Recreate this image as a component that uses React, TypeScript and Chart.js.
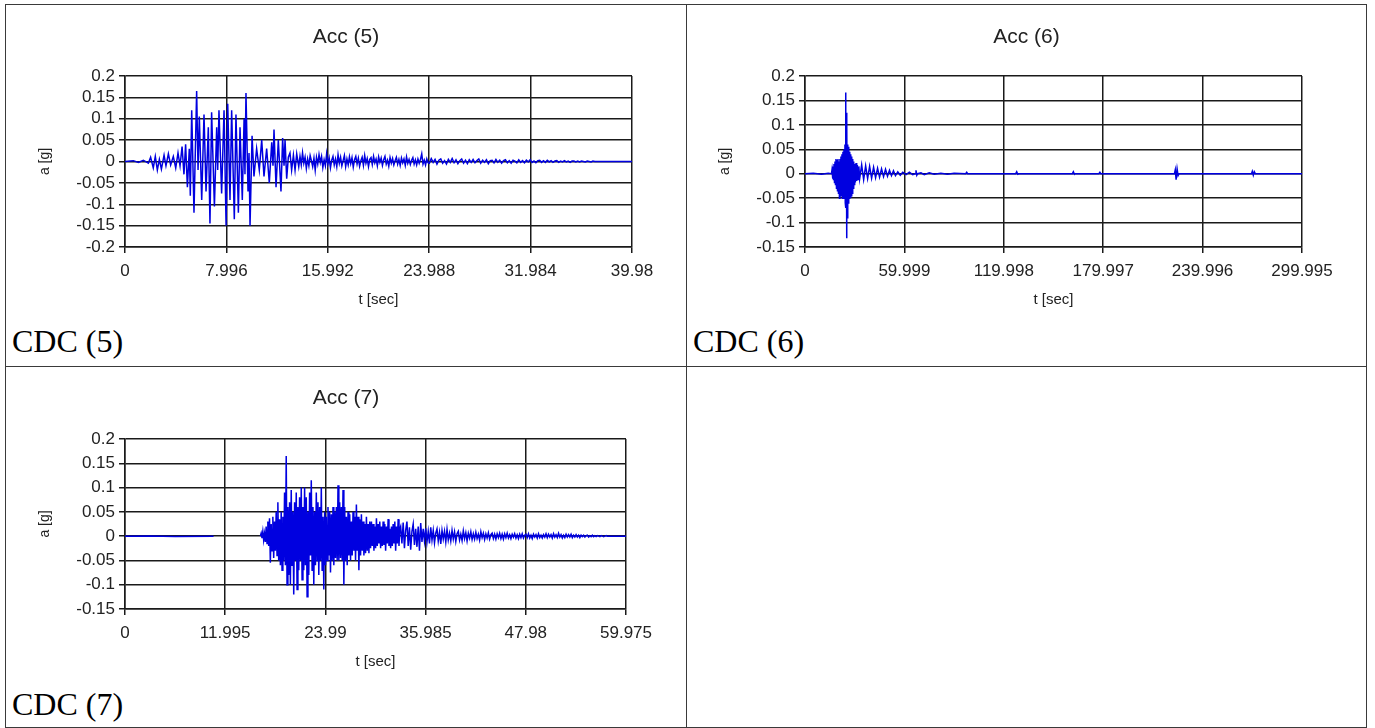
import React, { useEffect, useRef } from "react";
import { Chart, registerables } from "chart.js";

Chart.register(...registerables);

const SANS = "'Liberation Sans', Arial, sans-serif";
const SERIF = "'Liberation Serif', 'Times New Roman', serif";

// ---------- Acc (5) ----------
// strong-motion part: turning points (t [sec], a [g])
const t5 = [
  0, 0.66, 1.05, 1.45, 1.84, 2.02, 2.23, 2.39, 2.55, 2.71,
  2.87, 3.08, 3.23, 3.42, 3.6, 3.81, 4.0, 4.18, 4.34, 4.5,
  4.65, 4.78, 4.92, 5.07, 5.15, 5.26, 5.44, 5.65, 5.76, 5.86,
  6.05, 6.23, 6.39, 6.57, 6.7, 6.83, 7.05, 7.23, 7.31, 7.41,
  7.62, 7.81, 7.97, 8.1, 8.28, 8.41, 8.62, 8.75, 8.94, 9.07,
  9.25, 9.39, 9.46, 9.54, 9.7, 9.78, 9.86, 10.02, 10.17, 10.38,
  10.59, 10.78, 10.96, 11.17, 11.38, 11.57, 11.67, 11.75, 11.91, 12.09,
  12.3, 12.43, 12.54, 12.62, 12.75, 12.88, 13.01, 13.14, 13.28, 13.41,
  13.54, 13.7,
];
const a5 = [
  0, 0.002, -0.002, 0.003, -0.004, 0.01, -0.015, 0.012, -0.02, 0.005,
  -0.018, 0.015, -0.01, 0.018, -0.008, 0.012, -0.015, 0.02, -0.01, 0.035,
  -0.03, 0.04, -0.06, 0.03, -0.08, 0.12, -0.12, 0.165, -0.02, 0.105,
  -0.09, 0.11, -0.07, 0.08, -0.145, 0.115, -0.105, 0.08, -0.02, 0.12,
  -0.075, 0.12, -0.15, 0.135, -0.09, 0.12, -0.135, 0.11, -0.12, 0.08,
  -0.09, 0.1, -0.03, 0.16, -0.07, 0.02, -0.15, 0.06, -0.035, 0.03,
  -0.02, 0.05, -0.035, 0.03, -0.05, 0.045, -0.01, 0.075, -0.06, 0.05,
  -0.07, 0.055, -0.01, 0.05, -0.04, 0.01, 0.02, -0.02, 0.015, -0.02,
  0.018, -0.012,
];
// coda sampled every 0.1 s from 13.8 s
const coda5aStart = 13.8;
const coda5aStep = 0.1;
const coda5a = [
  0.012, -0.008, 0.02, -0.004, 0.01, -0.016, 0.006, -0.01, 0.014, 0.002,
  -0.012, 0.008, -0.02, 0.01, -0.006, 0.016, -0.002, 0.012, -0.014, 0.004,
  -0.01, 0.018, -0.006, 0.008, -0.015, 0.003, 0.012, -0.008, 0.006, -0.012,
  0.016, -0.004, 0.01, -0.01, 0.002, 0.014, -0.012, 0.006, -0.008, 0.011,
  -0.005, 0.009, -0.013, 0.004, 0.012, -0.006, 0.008, -0.011, 0.002, 0.01,
  -0.009, 0.014, -0.004, 0.007, -0.012, 0.005, 0.009, -0.007, 0.012, -0.003,
  0.006, -0.01, 0.011, -0.002, 0.008, -0.009, 0.004, 0.012, -0.006, 0.003,
  -0.011, 0.009, -0.004, 0.007, -0.008, 0.002, 0.01, -0.006, 0.005, -0.009,
  0.008, -0.003, 0.006, -0.009, 0.011, -0.004, 0.005, -0.007, 0.003, 0.009,
  -0.006, 0.004, -0.008, 0.006, -0.004, 0.005, 0.018, -0.006, 0.003, -0.008,
  0.006, -0.003,
];
// coda sampled every 0.15 s from 24.0 s
const coda5bStart = 24.0;
const coda5bStep = 0.15;
const coda5b = [
  -0.004, 0.007, -0.002, 0.005, -0.006, 0.003, 0.006, -0.004, 0.002, -0.006,
  0.005, -0.002, 0.007, -0.003, 0.004, -0.005, 0.002, 0.006, -0.004, 0.003,
  -0.005, 0.004, -0.002, 0.005, -0.003, 0.002, 0.006, -0.004, 0.003, -0.002,
  0.004, -0.005, 0.002, 0.003, -0.003, 0.005, -0.002, 0.003, -0.004, 0.002,
  0.004, -0.003, 0.002, -0.004, 0.003, 0.001, -0.003, 0.004, -0.002, 0.002,
  -0.003, 0.003, -0.001, 0.004, -0.002, 0.001, -0.003, 0.002, 0.003, -0.002,
  0.002, -0.002, 0.003, -0.001, 0.002, -0.002, 0.001, 0.002, -0.002, 0.001,
  -0.001, 0.002, -0.001, 0.001, -0.002, 0.001, 0.001, -0.001, 0.001, -0.001,
  0.001, 0, -0.001, 0.001, 0, -0.001, 0.001, 0, 0, 0,
];
const t5End = [38.5, 39.98];
const a5End = [0, 0];
const xTicks5 = [0, 7.996, 15.992, 23.988, 31.984, 39.98];
const xLabels5 = ["0", "7.996", "15.992", "23.988", "31.984", "39.98"];
const yTicks5 = [-0.2, -0.15, -0.1, -0.05, 0, 0.05, 0.1, 0.15, 0.2];
const yLabels5 = ["-0.2", "-0.15", "-0.1", "-0.05", "0", "0.05", "0.1", "0.15", "0.2"];

// ---------- Acc (6) ----------
const t6 = [
  0, 5, 10, 14, 16, 16.3, 16.6, 16.9, 17.2, 17.5,
  17.8, 18.1, 18.4, 18.7, 19.0, 19.3, 19.6, 19.9, 20.2, 20.5,
  20.8, 21.1, 21.4, 21.7, 22.0, 22.3, 22.6, 22.9, 23.2, 23.5,
  23.8, 24.1, 24.3, 24.5, 24.7, 24.9, 25.1, 25.3, 25.5, 25.8,
  26.1, 26.4, 26.7, 27.0, 27.3, 27.6, 27.9, 28.2, 28.5, 28.8,
  29.1, 29.4, 29.7, 30.0, 30.4, 30.8, 31.2, 31.6, 32.0, 32.5,
  33.0, 34.2, 35.4, 36.6, 37.8, 39.0, 40.2, 41.4, 42.6, 43.8,
  45.0, 46.2, 47.4, 48.6, 49.8, 51.0, 52.2, 53.4, 54.6,
  56, 57.5, 59, 61, 63, 65, 66.5, 67, 67.5, 68,
  70, 72, 75, 78, 82, 86, 90, 97, 97.6, 98.2,
  127.2, 127.8, 128.4, 129, 161.4, 162, 162.6, 163, 177.4, 178,
  178.6, 223, 223.5, 224, 224.6, 225.2, 225.8, 269.5, 270, 270.6,
  271.2, 271.8, 299.995,
];
const a6 = [
  0, 0.001, -0.001, 0.001, 0, 0.008, -0.01, 0.015, -0.012, 0.02,
  -0.018, 0.025, -0.022, 0.03, -0.03, 0.028, -0.035, 0.03, -0.04, 0.025,
  -0.05, 0.03, -0.045, 0.035, -0.04, 0.04, -0.05, 0.045, -0.048, 0.05,
  -0.05, 0.06, -0.06, 0.166, -0.07, 0.125, -0.132, 0.1, -0.09, 0.06,
  -0.06, 0.055, -0.05, 0.045, -0.048, 0.04, -0.045, 0.035, -0.04, 0.03,
  -0.03, 0.025, -0.022, 0.02, -0.018, 0.022, -0.015, 0.018, -0.012, 0.015,
  -0.01, 0.018, -0.012, 0.016, -0.01, 0.015, -0.009, 0.013, -0.008, 0.011,
  -0.007, 0.01, -0.006, 0.009, -0.005, 0.007, -0.004, 0.006, -0.004,
  0.004, -0.003, 0.003, -0.002, 0.003, -0.002, 0, 0.007, -0.003, 0,
  0.002, -0.002, 0.002, -0.001, 0.001, -0.001, 0.001, 0, 0.003, 0,
  0, 0.004, -0.001, 0, 0, 0.004, -0.001, 0, 0, 0.003,
  0, 0, 0.008, -0.012, 0.01, -0.004, 0, 0, 0.005, -0.003,
  0.004, 0, 0,
];
const xTicks6 = [0, 59.999, 119.998, 179.997, 239.996, 299.995];
const xLabels6 = ["0", "59.999", "119.998", "179.997", "239.996", "299.995"];
const yTicks6 = [-0.15, -0.1, -0.05, 0, 0.05, 0.1, 0.15, 0.2];
const yLabels6 = ["-0.15", "-0.1", "-0.05", "0", "0.05", "0.1", "0.15", "0.2"];

// ---------- Acc (7) ----------
const t7Head = [0, 3, 6, 10.6, 13];
const a7Head: (number | null)[] = [0, 0.0005, -0.0005, 0, null];
// strong motion sampled every 0.1 s from 16.2 s
const burst7Start = 16.2;
const burst7Step = 0.1;
const burst7 = [
  0, 0.006, -0.004, 0.01, -0.008, 0.005, -0.012, 0.02,
  -0.015, 0.03, -0.02, 0.037, -0.055, 0.025, -0.03, 0.04, -0.045, 0.03,
  -0.03, 0.05, -0.04, 0.07, -0.05, 0.035, -0.06, 0.05, -0.07, 0.04,
  -0.05, 0.09, -0.06, 0.165, -0.1, 0.06, -0.08, 0.07, -0.1, 0.095,
  -0.06, 0.05, -0.12, 0.07, -0.05, 0.09, -0.11, 0.06, -0.07, 0.08,
  -0.05, 0.1, -0.09, 0.06, -0.07, 0.1, -0.06, 0.08, -0.125, 0.05,
  -0.08, 0.09, -0.04, 0.115, -0.07, 0.06, -0.1, 0.05, -0.06, 0.09,
  -0.05, 0.07, -0.08, 0.06, -0.05, 0.1, -0.07, 0.04, -0.11, 0.05,
  -0.06, 0.04, -0.05, 0.06, -0.04, 0.05, -0.075, 0.045, -0.05, 0.06,
  -0.06, 0.05, -0.045, 0.06, -0.05, 0.105, -0.05, 0.07, -0.045, 0.06,
  -0.05, 0.095, -0.1, 0.06, -0.05, 0.04, -0.06, 0.05, -0.04, 0.045,
  -0.05, 0.03, -0.04, 0.05, -0.03, 0.04, -0.05, 0.065, -0.03, 0.04,
  -0.07, 0.035, -0.04, 0.045, -0.03, 0.03, -0.04, 0.025, -0.035, 0.04,
  -0.03, 0.025, -0.035, 0.03, -0.025, 0.03, -0.02, 0.025, -0.03, 0.02,
  -0.025, 0.037, -0.02, 0.025, -0.015, 0.03, -0.025, 0.02, -0.02, 0.03,
  -0.018, 0.025, -0.03, 0.02, -0.015, 0.035, -0.02, 0.015, -0.025, 0.02,
  -0.02, 0.025, -0.015, 0.03, -0.03, 0.02, -0.015, 0.035, -0.02, 0.015,
];
// coda sampled every 0.15 s from 33.0 s
const coda7Start = 33.0;
const coda7Step = 0.15;
const coda7 = [
  0.02, -0.015, 0.028, -0.025, 0.012, 0.03, -0.02, 0.018, -0.028, 0.01,
  0.025, -0.018, 0.015, -0.022, 0.02, -0.03, 0.027, -0.012, 0.015, -0.01,
  0.016, -0.012, 0.01, -0.015, 0.018, -0.008, 0.012, -0.014, 0.006, 0.015,
  -0.01, 0.008, -0.016, 0.012, -0.006, 0.01, -0.012, 0.014, -0.008, 0.006,
  -0.01, 0.012, -0.006, 0.009, -0.011, 0.005, 0.01, -0.008, 0.004, -0.009,
  0.011, -0.005, 0.007, -0.01, 0.006, -0.004, 0.009, -0.007, 0.005, -0.006,
  0.008, -0.005, 0.004, -0.008, 0.009, -0.003, 0.006, -0.007, 0.005, -0.004,
  0.007, -0.006, 0.003, 0.006, -0.005, 0.004, -0.006, 0.005, -0.003, 0.006,
  -0.005, 0.004, -0.006, 0.005, -0.003, 0.006, -0.004, 0.003, -0.005, 0.004,
  -0.002, 0.005, -0.004, 0.003, -0.005, 0.004, -0.003, 0.005, -0.004, 0.002,
  0.004, -0.003, 0.005, -0.004, 0.002, -0.005, 0.004, -0.002, 0.003, -0.004,
  0.005, -0.003, 0.002, -0.004, 0.003, -0.002, 0.005, -0.003, 0.004, -0.002,
  0.003, -0.004, 0.005, -0.002, 0.003, -0.003, 0.006, -0.002, 0.003, -0.004,
  0.002, -0.003, 0.004, -0.002, 0.003, -0.002, 0.004, -0.003, 0.002, -0.002,
  0.003, -0.002, 0.002, -0.003, 0.002, -0.001, 0.002, -0.002, 0.001, 0.002,
  -0.002, 0.001, -0.001, 0.002, -0.001, 0.001, -0.001, 0.001, 0, -0.001,
  0.001, 0, -0.001, 0, 0.001, 0, 0, 0,
];
const t7End = [59.975];
const a7End = [0];
const xTicks7 = [0, 11.995, 23.99, 35.985, 47.98, 59.975];
const xLabels7 = ["0", "11.995", "23.99", "35.985", "47.98", "59.975"];
const yTicks7 = [-0.15, -0.1, -0.05, 0, 0.05, 0.1, 0.15, 0.2];
const yLabels7 = ["-0.15", "-0.1", "-0.05", "0", "0.05", "0.1", "0.15", "0.2"];

type Pt = { x: number; y: number | null };
const pairs = (t: number[], a: (number | null)[]): Pt[] => t.map((tv, i) => ({ x: tv, y: a[i] }));
const sampled = (start: number, step: number, a: number[]): Pt[] =>
  a.map((v, i) => ({ x: Math.round((start + i * step) * 1000) / 1000, y: v }));

const series5: Pt[] = [
  ...pairs(t5, a5),
  ...sampled(coda5aStart, coda5aStep, coda5a),
  ...sampled(coda5bStart, coda5bStep, coda5b),
  ...pairs(t5End, a5End),
];
const series6: Pt[] = pairs(t6, a6);
const series7: Pt[] = [
  ...pairs(t7Head, a7Head),
  ...sampled(burst7Start, burst7Step, burst7),
  ...sampled(coda7Start, coda7Step, coda7),
  ...pairs(t7End, a7End),
];

const GRID = "#1a1a1a";
const TEXT = "#222222";
const TRACE = "#0000e0";

type ChartProps = {
  title: string;
  points: Pt[];
  xTicks: number[];
  xLabels: string[];
  yTicks: number[];
  yLabels: string[];
  left: number;
  top: number;
  width: number;
  height: number;
  yAxisWidth: number;
  yTitlePad: number;
  padRight: number;
  titlePadTop: number;
  titlePadBottom: number;
};

function AccChart(p: ChartProps) {
  const ref = useRef<HTMLCanvasElement>(null);
  useEffect(() => {
    if (!ref.current) return;
    const chart = new Chart(ref.current, {
      type: "line",
      data: {
        datasets: [
          {
            data: p.points as any,
            borderColor: TRACE,
            borderWidth: 1.5,
            pointRadius: 0,
            tension: 0,
            fill: false,
            spanGaps: false,
            xAxisID: "x",
            yAxisID: "y",
          },
        ],
      },
      options: {
        animation: false,
        responsive: false,
        maintainAspectRatio: false,
        events: [],
        layout: { padding: 0 },
        plugins: {
          legend: { display: false },
          tooltip: { enabled: false },
          title: {
            display: true,
            text: p.title,
            color: TEXT,
            font: { family: SANS, size: 21, weight: "normal" as any },
            padding: { top: p.titlePadTop, bottom: p.titlePadBottom },
          },
        },
        scales: {
          x: {
            type: "linear",
            position: "bottom",
            min: p.xTicks[0],
            max: p.xTicks[p.xTicks.length - 1],
            afterBuildTicks: (s: any) => {
              s.ticks = p.xTicks.map((v) => ({ value: v }));
            },
            afterFit: (s: any) => {
              s.height = 68;
            },
            ticks: {
              autoSkip: false,
              maxRotation: 0,
              padding: 8,
              color: TEXT,
              font: { family: SANS, size: 17 },
              callback: (v: any) => p.xLabels[p.xTicks.indexOf(Number(v))] ?? "",
            },
            grid: { color: GRID, lineWidth: 1.5, tickLength: 6, tickColor: GRID, drawTicks: true },
            border: { display: true, color: GRID, width: 1.5 },
            title: {
              display: true,
              text: "t [sec]",
              color: TEXT,
              font: { family: SANS, size: 15 },
              padding: { top: 0, bottom: 6 },
            },
          },
          y: {
            type: "linear",
            position: "left",
            min: p.yTicks[0],
            max: p.yTicks[p.yTicks.length - 1],
            afterBuildTicks: (s: any) => {
              s.ticks = p.yTicks.map((v) => ({ value: v }));
            },
            afterFit: (s: any) => {
              s.width = p.yAxisWidth;
            },
            ticks: {
              autoSkip: false,
              padding: 4,
              color: TEXT,
              font: { family: SANS, size: 17 },
              callback: (v: any) => p.yLabels[p.yTicks.indexOf(Number(v))] ?? "",
            },
            grid: { color: GRID, lineWidth: 1.5, tickLength: 6, tickColor: GRID, drawTicks: true },
            border: { display: true, color: GRID, width: 1.5 },
            title: {
              display: true,
              text: "a [g]",
              color: TEXT,
              font: { family: SANS, size: 14 },
              padding: { top: p.yTitlePad, bottom: 0 },
            },
          },
          // empty right-hand margin so the plot ends where the reference's does
          yRight: {
            type: "linear",
            position: "right",
            display: true,
            min: 0,
            max: 1,
            afterFit: (s: any) => {
              s.width = p.padRight;
            },
            ticks: { display: false },
            grid: { display: false, drawTicks: false },
            border: { display: false },
            title: { display: false },
          },
        },
      },
    });
    return () => chart.destroy();
  }, []);
  return (
    <canvas
      ref={ref}
      width={p.width}
      height={p.height}
      style={{ position: "absolute", left: p.left, top: p.top, width: p.width, height: p.height, display: "block" }}
    />
  );
}

function Caption({ text, left, top }: { text: string; left: number; top: number }) {
  return (
    <div
      style={{
        position: "absolute",
        left,
        top,
        fontFamily: SERIF,
        fontSize: 32,
        lineHeight: "32px",
        color: "#000",
        whiteSpace: "nowrap",
      }}
    >
      {text}
    </div>
  );
}

function Line({ x, y, w, h }: { x: number; y: number; w: number; h: number }) {
  return <div style={{ position: "absolute", left: x, top: y, width: w, height: h, background: "#3a3a3a" }} />;
}

export default function App() {
  return (
    <div
      style={{
        position: "absolute",
        left: 0,
        top: 0,
        width: 1375,
        height: 728,
        background: "#fff",
        overflow: "hidden",
      }}
    >
      <AccChart
        title="Acc (5)"
        points={series5}
        xTicks={xTicks5}
        xLabels={xLabels5}
        yTicks={yTicks5}
        yLabels={yLabels5}
        left={6}
        top={5}
        width={680}
        height={310}
        yAxisWidth={119}
        yTitlePad={31}
        padRight={54}
        titlePadTop={19.4}
        titlePadBottom={26.4}
      />
      <AccChart
        title="Acc (6)"
        points={series6}
        xTicks={xTicks6}
        xLabels={xLabels6}
        yTicks={yTicks6}
        yLabels={yLabels6}
        left={687}
        top={5}
        width={679}
        height={310}
        yAxisWidth={118}
        yTitlePad={29.6}
        padRight={64}
        titlePadTop={19.4}
        titlePadBottom={26.4}
      />
      <AccChart
        title="Acc (7)"
        points={series7}
        xTicks={xTicks7}
        xLabels={xLabels7}
        yTicks={yTicks7}
        yLabels={yLabels7}
        left={6}
        top={367}
        width={680}
        height={310}
        yAxisWidth={119}
        yTitlePad={31}
        padRight={60}
        titlePadTop={18.4}
        titlePadBottom={28.4}
      />
      <Caption text="CDC (5)" left={12} top={325} />
      <Caption text="CDC (6)" left={693} top={325} />
      <Caption text="CDC (7)" left={12} top={688} />
      <Line x={5} y={4} w={1362} h={1} />
      <Line x={5} y={366} w={1362} h={1} />
      <Line x={5} y={727} w={1362} h={1} />
      <Line x={5} y={4} w={1} h={724} />
      <Line x={686} y={4} w={1} h={724} />
      <Line x={1366} y={4} w={1} h={724} />
    </div>
  );
}
